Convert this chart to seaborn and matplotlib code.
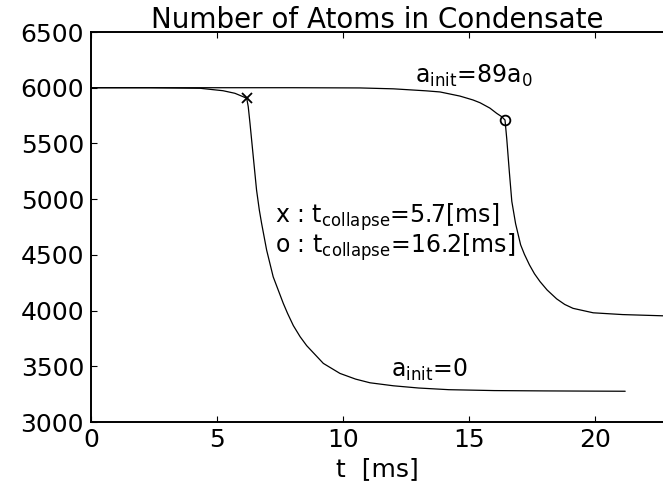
import numpy as np
import pandas as pd
import matplotlib
matplotlib.use("Agg")
import matplotlib.pyplot as plt
import seaborn as sns

# Curve a_init = 0
t_a0 = [0, 2.34, 4.33, 5.24, 5.71, 6.03, 6.18, 6.24, 6.31, 6.44, 6.57, 6.68, 6.77, 6.97,
        7.23, 7.63, 7.8, 8.03, 8.3, 8.56, 9.22, 9.88, 10.5, 11.07, 12.0, 13.0, 14.2,
        16.0, 18.0, 20.0, 21.2]
N_a0 = [6000, 6000, 5995, 5973, 5950, 5920, 5905, 5830, 5680, 5380, 5082, 4902, 4783,
        4543, 4303, 4065, 3975, 3865, 3765, 3685, 3526, 3436, 3385, 3352, 3325, 3305,
        3290, 3282, 3279, 3277, 3276]

# Curve a_init = 89 a0
t_a89 = [0, 4, 8, 10.67, 12.0, 13.3, 13.85, 14.64, 15.16, 15.44, 15.83, 16.1, 16.3,
         16.43, 16.5, 16.6, 16.7, 16.85, 17.05, 17.2, 17.4, 17.6, 17.82, 18.1, 18.48,
         18.8, 19.13, 19.93, 21.1, 22.7]
N_a89 = [6000, 6000, 6000, 5998, 5990, 5972, 5962, 5925, 5890, 5865, 5817, 5770, 5740,
         5710, 5540, 5250, 4980, 4780, 4590, 4505, 4410, 4330, 4260, 4185, 4105, 4055,
         4020, 3980, 3964, 3953]

# Collapse markers
collapse_t = [6.18, 16.43]
collapse_N = [5905, 5710]
collapse_marker = ["x", "o"]

x_ticks = [0, 5, 10, 15, 20]
y_ticks = [3000, 3500, 4000, 4500, 5000, 5500, 6000, 6500]

sns.set_style("ticks")
plt.rcParams["font.family"] = ["DejaVu Sans"]
plt.rcParams["mathtext.default"] = "regular"
plt.rcParams["text.color"] = "black"
plt.rcParams["axes.labelcolor"] = "black"
plt.rcParams["xtick.color"] = "black"
plt.rcParams["ytick.color"] = "black"

fig = plt.figure(figsize=(6.63, 4.91), dpi=100)
ax = fig.add_axes([91 / 663, 1 - 422 / 491, 1 - 91 / 663, (422 - 32) / 491])

df0 = pd.DataFrame({"t": t_a0, "N": N_a0})
df1 = pd.DataFrame({"t": t_a89, "N": N_a89})
sns.lineplot(data=df0, x="t", y="N", ax=ax, color="black", linewidth=0.9, sort=False)
sns.lineplot(data=df1, x="t", y="N", ax=ax, color="black", linewidth=0.9, sort=False)

for tc, nc, mk in zip(collapse_t, collapse_N, collapse_marker):
    if mk == "x":
        ax.plot([tc], [nc], marker="x", color="black", markersize=7.5, mew=1.3, linestyle="none")
    else:
        ax.plot([tc], [nc], marker="o", markerfacecolor="none", markeredgecolor="black",
                markersize=7, mew=1.3, linestyle="none")

ax.set_xlim(0, 22.7)
ax.set_ylim(3000, 6500)
ax.set_xticks(x_ticks)
ax.set_yticks(y_ticks)
ax.tick_params(axis="both", direction="in", length=4, width=0.8, labelsize=18,
               top=True, colors="black")
ax.tick_params(axis="x", pad=4)
ax.tick_params(axis="y", pad=5)
for s in ["left", "bottom", "top"]:
    ax.spines[s].set_linewidth(1.4)
    ax.spines[s].set_color("black")
ax.spines["right"].set_visible(False)

ax.set_title("Number of Atoms in Condensate", fontsize=20, pad=3, color="black")
ax.set_xlabel("t  [ms]", fontsize=18, labelpad=4)
ax.set_ylabel("")

ax.text(12.86, 6045, r"$a_{init}$=89$a_0$", fontsize=17)
ax.text(7.3, 4785, r"x : $t_{collapse}$=5.7[ms]", fontsize=17)
ax.text(7.3, 4515, r"o : $t_{collapse}$=16.2[ms]", fontsize=17)
ax.text(11.9, 3405, r"$a_{init}$=0", fontsize=17)

fig.savefig("out.png", dpi=100)
